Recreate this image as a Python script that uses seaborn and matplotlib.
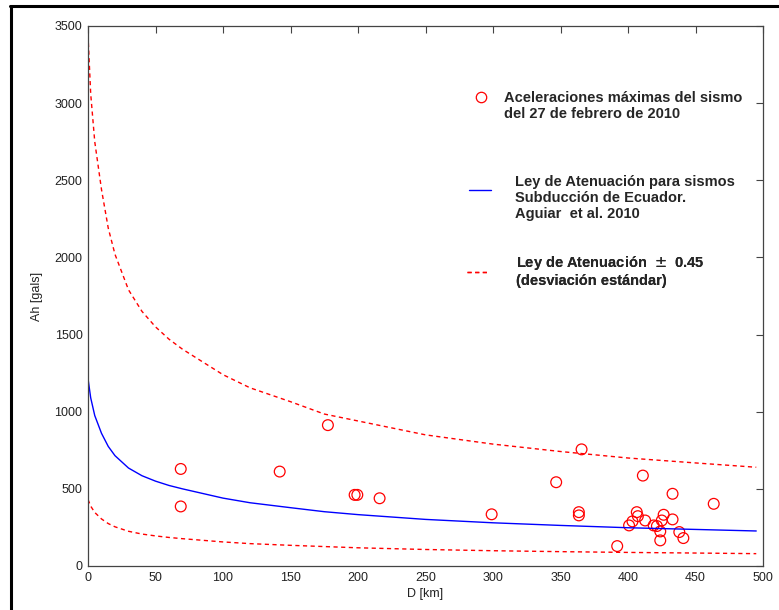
import matplotlib
matplotlib.use("Agg")
import matplotlib.pyplot as plt
import seaborn as sns
import pandas as pd
from matplotlib.lines import Line2D
from matplotlib.legend_handler import HandlerLine2D

# ---- data ----
curve_d = [0, 2, 5, 10, 15, 20, 30, 40, 50, 60, 70, 80, 100, 120, 150,
           175, 200, 250, 300, 350, 400, 450, 495]
curve_mean = [1215, 1090, 975, 860, 775, 715, 635, 585, 550, 522, 500, 480,
              440, 410, 378, 352, 333, 302, 280, 263, 248, 237, 227]
curve_upper = [3440, 3060, 2750, 2440, 2190, 2020, 1790, 1650, 1550, 1470,
               1405, 1350, 1240, 1155, 1065, 985, 940, 850, 790, 742, 700,
               668, 640]
curve_lower = [431, 388, 347, 305, 275, 254, 225, 207, 195, 185, 177, 170,
               156, 145, 134, 126, 118, 107, 99, 93, 88, 84, 80]

obs_d = [68.7, 68.7, 142, 177.7, 197.5, 199.5, 216, 299, 346.8, 365.6,
         363.6, 363.6, 411, 392, 400.8, 403.3, 406.5, 407.3, 412.7, 419,
         421.4, 423.9, 423.9, 425, 426.4, 433, 433, 438, 441, 463.5]
obs_a = [629, 386, 612, 913, 461, 461, 439, 335, 543, 756,
         349, 328, 586, 129, 263, 289, 349, 323, 295, 263,
         259, 224, 166, 295, 332, 302, 468, 220, 181, 403]

label_obs = "Aceleraciones máximas del sismo\ndel 27 de febrero de 2010"
label_mean = "Ley de Atenuación para sismos\nSubducción de Ecuador.\nAguiar  et al. 2010"
label_std = "Ley de Atenuación  $\\pm$  0.45\n(desviación estándar)"

x_ticks = [0, 50, 100, 150, 200, 250, 300, 350, 400, 450, 500]
y_ticks = [0, 500, 1000, 1500, 2000, 2500, 3000, 3500]

# ---- style ----
sns.set_style("white")
plt.rcParams["font.family"] = ["Liberation Sans", "DejaVu Sans"]
plt.rcParams["mathtext.fontset"] = "dejavusans"

W, H = 779, 610
fig = plt.figure(figsize=(W / 100, H / 100), dpi=100)
ax = fig.add_axes([88 / W, 1 - 566 / H, (763 - 88) / W, (566 - 26) / H])

df_curve = pd.DataFrame({"D": curve_d, "mean": curve_mean,
                         "upper": curve_upper, "lower": curve_lower})
df_obs = pd.DataFrame({"D": obs_d, "A": obs_a})

dash = (0, (3, 2.5))
sns.lineplot(data=df_curve, x="D", y="upper", ax=ax, color="red",
             linewidth=1.0, linestyle=dash, estimator=None, sort=False)
sns.lineplot(data=df_curve, x="D", y="lower", ax=ax, color="red",
             linewidth=1.0, linestyle=dash, estimator=None, sort=False)
sns.lineplot(data=df_curve, x="D", y="mean", ax=ax, color="#0000ff",
             linewidth=1.0, estimator=None, sort=False)
sns.scatterplot(data=df_obs, x="D", y="A", ax=ax, marker="o", s=60,
                facecolors="none", edgecolor="red", linewidth=0.9)

ax.set_xlim(0, 500)
ax.set_ylim(0, 3500)
ax.set_xticks(x_ticks)
ax.set_yticks(y_ticks)
ax.set_xticklabels([str(t) for t in x_ticks])
ax.set_yticklabels([str(t) for t in y_ticks])
ax.tick_params(direction="in", length=5, width=0.8, colors="#444444",
               labelcolor="#222222", labelsize=9, top=True, right=True,
               pad=4)
for s in ax.spines.values():
    s.set_color("#444444")
    s.set_linewidth(0.9)
ax.set_xlabel("D [km]", fontsize=9, color="#222222", labelpad=3)
ax.set_ylabel("Ah [gals]", fontsize=9, color="#222222", labelpad=8)


class HandlerShift(HandlerLine2D):
    def __init__(self, dy, **kw):
        super().__init__(**kw)
        self.dy = dy

    def create_artists(self, legend, orig_handle, xdescent, ydescent,
                       width, height, fontsize, trans):
        arts = super().create_artists(legend, orig_handle, xdescent,
                                      ydescent, width, height, fontsize,
                                      trans)
        for a in arts:
            a.set_ydata([v + self.dy for v in a.get_ydata()])
        return arts


def add_entry(handle, label, x, y, pad, dy):
    leg = ax.legend([handle], [label], loc="center left",
                    bbox_to_anchor=(x / W, 1 - y / H),
                    bbox_transform=fig.transFigure, frameon=False,
                    handlelength=1.5, handletextpad=pad, borderpad=0,
                    borderaxespad=0,
                    handler_map={handle: HandlerShift(dy)},
                    prop={"weight": "bold", "size": 10.5})
    ax.add_artist(leg)
    return leg

h_obs = Line2D([], [], marker="o", linestyle="none", markersize=7.5,
               markerfacecolor="none", markeredgecolor="red",
               markeredgewidth=0.9)
h_mean = Line2D([], [], color="#0000ff", linewidth=1.0)
h_std = Line2D([], [], color="red", linewidth=1.0, linestyle=dash)

add_entry(h_obs, label_obs, 470, 106, 0.85, 6.5)
add_entry(h_mean, label_mean, 469, 198, 1.65, 6.0)
add_entry(h_std, label_std, 467, 271, 1.85, -0.5)

# ---- frame lines of the original figure ----
fig.add_artist(Line2D([11 / W, 11 / W], [0, 1 - 6 / H], color="black",
                      linewidth=2.2, transform=fig.transFigure))
fig.add_artist(Line2D([10 / W, 1], [1 - 6 / H, 1 - 6 / H], color="black",
                      linewidth=2.2, transform=fig.transFigure))

fig.savefig("out.png", dpi=100)
